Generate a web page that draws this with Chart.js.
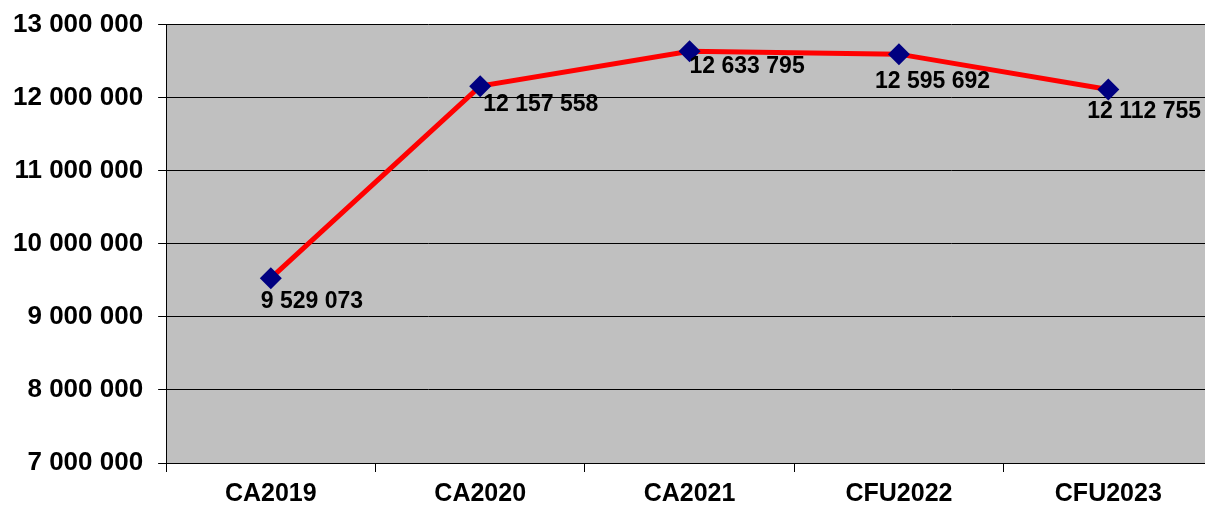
<!DOCTYPE html>
<html>
<head>
<meta charset="utf-8">
<script src="https://cdn.jsdelivr.net/npm/chart.js@4.4.0/dist/chart.umd.min.js"></script>
<style>
	html, body { margin: 0; padding: 0; background: #fff; overflow: hidden; }
	.caixa { width: 1205px; height: 505px; overflow: hidden; position: relative; }
	#grafico { position: absolute; left: -2px; top: -6px; }
</style>
</head>
<body>
<div class="caixa"><canvas id="grafico" width="1215" height="522"></canvas></div>
<script>
//---------------- Dados ----------------
const categorias = ["CA2019", "CA2020", "CA2021", "CFU2022", "CFU2023"];
const valores = [9529073, 12157558, 12633795, 12595692, 12112755];
const eixo_min = 7000000;
const eixo_max = 13000000;
const eixo_passo = 1000000;

//Formata com espaço de milhar
function formatar(v){
	return String(v).replace(/\B(?=(\d{3})+(?!\d))/g, " ");
}

//Fundo cinza da área do gráfico
const fundo_area = {
	id: "fundo_area",
	beforeDraw(chart){
		const {ctx, chartArea: a} = chart;
		ctx.save();
		ctx.fillStyle = "#c0c0c0";
		ctx.fillRect(a.left, a.top, a.right - a.left, a.bottom - a.top);
		ctx.restore();
	}
};

//Rótulos dos valores
const rotulos = {
	id: "rotulos",
	afterDatasetsDraw(chart, args, opts){
		const ctx = chart.ctx;
		const meta = chart.getDatasetMeta(0);
		ctx.save();
		ctx.font = "bold 23px 'Liberation Sans', Arial, sans-serif";
		ctx.fillStyle = "#000";
		ctx.textAlign = "left";
		ctx.textBaseline = "middle";
		meta.data.forEach((p, i) => {
			const d = opts.desloc[i];
			ctx.fillText(formatar(chart.data.datasets[0].data[i]), p.x + d[0], p.y + d[1]);
		});
		ctx.restore();
	}
};

new Chart(document.getElementById("grafico"), {
	type: "line",
	data: {
		labels: categorias,
		datasets: [{
			data: valores,
			borderColor: "#ff0000",
			borderWidth: 5,
			pointStyle: "rectRot",
			pointRadius: 11,
			pointBackgroundColor: "#000080",
			pointBorderColor: "#000080",
			pointBorderWidth: 0,
			tension: 0
		}]
	},
	options: {
		responsive: false,
		animation: false,
		layout: { autoPadding: false, padding: { left: 0, top: 3, right: 0, bottom: 0 } },
		plugins: {
			legend: { display: false },
			tooltip: { enabled: false },
			rotulos: { desloc: [[-10, 23], [3, 19], [0, 15], [-24, 28], [-21, 22]] }
		},
		scales: {
			x: {
				offset: true,
				grid: { offset: true, drawOnChartArea: false, drawTicks: true, tickLength: 9, color: "#000" },
				border: { color: "#000", width: 1 },
				ticks: {
					color: "#000",
					padding: 7,
					font: { family: "'Liberation Sans', Arial, sans-serif", size: 25, weight: "bold" }
				}
			},
			y: {
				min: eixo_min,
				max: eixo_max,
				grid: { color: "#000", lineWidth: 1, tickLength: 8 },
				border: { color: "#000", width: 1 },
				ticks: {
					stepSize: eixo_passo,
					color: "#000",
					padding: 15,
					font: { family: "'Liberation Sans', Arial, sans-serif", size: 26, weight: "bold" },
					callback: v => formatar(v)
				}
			}
		}
	},
	plugins: [fundo_area, rotulos]
});
</script>
</body>
</html>
